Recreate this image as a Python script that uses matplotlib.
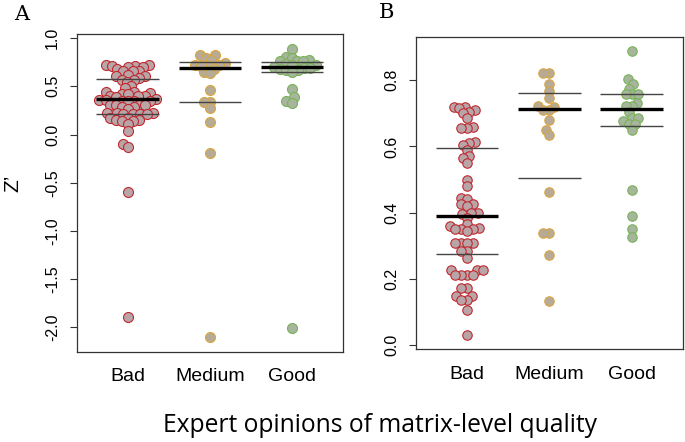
import numpy as np
import matplotlib
matplotlib.use("Agg")
import matplotlib.pyplot as plt

groups = ["Bad", "Medium", "Good"]

# Z' values >= 0 (shown in both panels)
bad_pos = [0.72, 0.72, 0.715, 0.71, 0.705, 0.70, 0.685, 0.66, 0.655, 0.655,
           0.615, 0.61, 0.605, 0.59, 0.57, 0.565, 0.55, 0.50, 0.48, 0.445,
           0.44, 0.427, 0.425, 0.42, 0.40, 0.398, 0.395, 0.385, 0.365, 0.36,
           0.355, 0.35, 0.35, 0.35, 0.345, 0.31, 0.31, 0.31, 0.309, 0.283,
           0.283, 0.263, 0.228, 0.228, 0.228, 0.213, 0.213, 0.213, 0.213, 0.173,
           0.173, 0.15, 0.15, 0.138, 0.138, 0.107, 0.032]
medium_pos = [0.822, 0.822, 0.79, 0.768, 0.745, 0.721, 0.72, 0.709, 0.709,
              0.679, 0.651, 0.635, 0.463, 0.339, 0.339, 0.272, 0.134]
good_pos = [0.888, 0.803, 0.79, 0.775, 0.758, 0.758, 0.758, 0.731, 0.721, 0.721,
            0.704, 0.687, 0.687, 0.677, 0.667, 0.667, 0.651, 0.468, 0.389, 0.351,
            0.327]

# negative Z' values (panel A only)
bad_neg = [-0.093, -0.128, -0.595, -1.89]
medium_neg = [-0.187, -2.10]
good_neg = [-2.01]

# quartile / median lines
a_q1 = [0.218, 0.335, 0.649]
a_med = [0.366, 0.690, 0.697]
a_q3 = [0.573, 0.749, 0.752]
b_q1 = [0.274, 0.506, 0.662]
b_med = [0.390, 0.712, 0.712]
b_q3 = [0.594, 0.760, 0.758]

a_ticks = [-2.0, -1.5, -1.0, -0.5, 0.0, 0.5, 1.0]
b_ticks = [0.0, 0.2, 0.4, 0.6, 0.8]

edge_colors = ["#c0282f", "#d9a640", "#78b457"]
face_colors = ["#b9a5a7", "#b7ab97", "#a7b59d"]

plt.rcParams["font.family"] = ["Liberation Sans", "DejaVu Sans"]


def swarm_x(vals, center, ax, spacing):
    # beeswarm layout in pixel space, lowest values placed first
    pts = ax.transData.transform(np.column_stack([np.full(len(vals), center), vals]))
    ys = pts[:, 1]
    dx = np.zeros(len(vals))
    placed = []
    for i in np.argsort(ys, kind="stable"):
        y = ys[i]
        cands = [0.0]
        for px, py in placed:
            dy = abs(y - py)
            if dy < spacing:
                w = np.sqrt(spacing ** 2 - dy ** 2)
                cands += [px - w, px + w]
        cands.sort(key=abs)
        for c in cands:
            if all((c - px) ** 2 + (y - py) ** 2 >= spacing ** 2 - 1e-6 for px, py in placed):
                dx[i] = c
                break
        placed.append((dx[i], y))
    scale = ax.transData.transform([(1, 0)])[0, 0] - ax.transData.transform([(0, 0)])[0, 0]
    return center + dx / scale


def draw_panel(ax, data, q1, med, q3, ylim, ticks, msize, spacing):
    ax.set_xlim(0.38, 3.62)
    ax.set_ylim(*ylim)
    for k, vals in enumerate(data):
        xs = swarm_x(vals, k + 1, ax, spacing)
        ax.plot(xs, vals, "o", ms=msize, mfc=face_colors[k], mec=edge_colors[k],
                mew=0.8, zorder=2)
        ax.hlines(med[k], k + 1 - 0.38, k + 1 + 0.38, color="black", lw=2.4, zorder=3)
        ax.hlines([q1[k], q3[k]], k + 1 - 0.38, k + 1 + 0.38, color="#444444", lw=1.0, zorder=3)
    ax.set_xticks([1, 2, 3], groups, fontsize=14)
    ax.tick_params(axis="x", length=0, pad=12)
    ax.set_yticks(ticks, [f"{t:.1f}" for t in ticks], rotation=90, va="center", fontsize=11.5)
    ax.tick_params(axis="y", length=5, width=0.8, pad=7, color="#333333")
    for s in ax.spines.values():
        s.set_color("#333333")
        s.set_linewidth(0.9)


fig = plt.figure(figsize=(6.85, 4.42), dpi=100)
ax_a = fig.add_axes([0.112, 0.204, 0.389, 0.720])
ax_b = fig.add_axes([0.607, 0.210, 0.390, 0.7066])

data_a = [bad_pos + bad_neg, medium_pos + medium_neg, good_pos + good_neg]
data_b = [bad_pos, medium_pos, good_pos]

draw_panel(ax_a, data_a, a_q1, a_med, a_q3, (-2.253, 1.047), a_ticks, 7.2, 6.2)
draw_panel(ax_b, data_b, b_q1, b_med, b_q3, (-0.012, 0.931), b_ticks, 6.8, 6.2)

fig.text(22 / 685, 1 - 14 / 442, "A", family="DejaVu Serif", fontsize=15, ha="center", va="center")
fig.text(386 / 685, 1 - 13 / 442, "B", family="DejaVu Serif", fontsize=15, ha="center", va="center")
fig.text(13 / 685, 1 - 183 / 442, "Z\u2019", fontsize=15, rotation=90, ha="center", va="center")
fig.text(380 / 685, 1 - 425 / 442, "Expert opinions of matrix-level quality",
         family="Open Sans", fontsize=17.7, ha="center", va="center")

fig.savefig("out.png", dpi=100)
plt.close(fig)
